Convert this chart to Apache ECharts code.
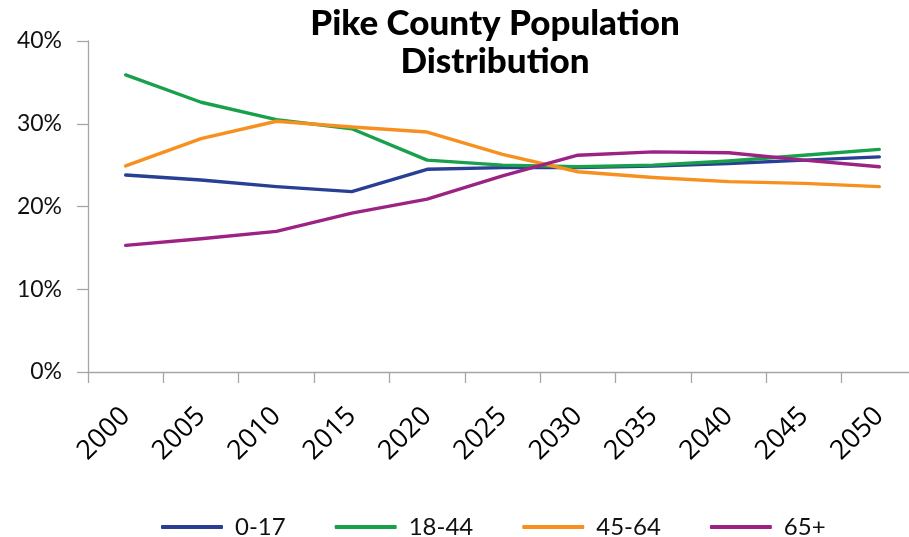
<!DOCTYPE html>
<html>
<head>
<meta charset="utf-8">
<script src="https://cdn.jsdelivr.net/npm/echarts@6/dist/echarts.min.js"></script>
<style>
  html, body { margin: 0; padding: 0; background: #fff; }
  #chart { width: 909px; height: 537px; }
</style>
</head>
<body>
<div id="chart"></div>
<script>
// 年份
const years = ['2000', '2005', '2010', '2015', '2020', '2025', '2030', '2035', '2040', '2045', '2050']
// 各年龄段占比（%）
const age0to17 = [23.8, 23.2, 22.4, 21.8, 24.5, 24.7, 24.7, 24.9, 25.2, 25.6, 26.0]
const age18to44 = [35.9, 32.6, 30.5, 29.4, 25.6, 25.0, 24.8, 25.0, 25.5, 26.2, 26.9]
const age45to64 = [24.9, 28.2, 30.3, 29.6, 29.0, 26.3, 24.2, 23.5, 23.0, 22.8, 22.4]
const age65plus = [15.3, 16.1, 17.0, 19.2, 20.9, 23.7, 26.2, 26.6, 26.5, 25.6, 24.8]
const yTicks = [0, 10, 20, 30, 40]

const chartDom = document.getElementById('chart')
const myChart = echarts.init(chartDom)

const baseFont = 'Lato, "Open Sans", sans-serif'

function lineSeries(name, data, color) {
  return {
    name: name,
    type: 'line',
    data: data,
    showSymbol: false,
    symbol: 'none',
    lineStyle: { width: 3.4, color: color, cap: 'round', join: 'round' },
    itemStyle: { color: color }
  }
}

const option = {
  animation: false,
  title: {
    text: 'Pike County Population\nDistribution',
    left: 490,
    top: 0,
    textAlign: 'center',
    textStyle: {
      fontFamily: baseFont,
      fontWeight: 900,
      fontSize: 35,
      lineHeight: 38,
      color: '#000'
    }
  },
  legend: {
    left: 156,
    top: 510,
    itemWidth: 62,
    itemHeight: 4,
    itemGap: 49,
    icon: 'roundRect',
    textStyle: {
      fontFamily: baseFont,
      fontSize: 24,
      color: '#111',
      padding: [0, 0, 0, 7]
    },
    data: ['0-17', '18-44', '45-64', '65+']
  },
  grid: {
    left: 88,
    top: 41,
    width: 829,
    height: 331,
    containLabel: false,
    outerBoundsMode: 'none'
  },
  xAxis: {
    type: 'category',
    data: years,
    boundaryGap: true,
    axisLine: { lineStyle: { color: '#a6a6a6', width: 1.3 } },
    axisTick: { show: true, length: 11, lineStyle: { color: '#a6a6a6', width: 1.3 } },
    axisLabel: {
      rotate: 45,
      margin: 40,
      fontFamily: '"Open Sans", "Liberation Sans", sans-serif',
      fontSize: 27,
      color: '#000',
      interval: 0
    },
    splitLine: { show: false }
  },
  yAxis: {
    type: 'value',
    min: yTicks[0],
    max: yTicks[yTicks.length - 1],
    interval: 10,
    axisLine: { show: true, lineStyle: { color: '#a6a6a6', width: 1.3 } },
    axisTick: { show: true, length: 11, lineStyle: { color: '#a6a6a6', width: 1.3 } },
    axisLabel: {
      formatter: '{value}%',
      margin: 26,
      fontFamily: baseFont,
      fontSize: 23,
      color: '#111'
    },
    splitLine: { show: false }
  },
  series: [
    lineSeries('0-17', age0to17, '#283f94'),
    lineSeries('18-44', age18to44, '#18a04b'),
    lineSeries('45-64', age45to64, '#f7901e'),
    lineSeries('65+', age65plus, '#9c2384')
  ]
}

myChart.setOption(option)
window.addEventListener('resize', function () {
  myChart.resize()
})
</script>
</body>
</html>
